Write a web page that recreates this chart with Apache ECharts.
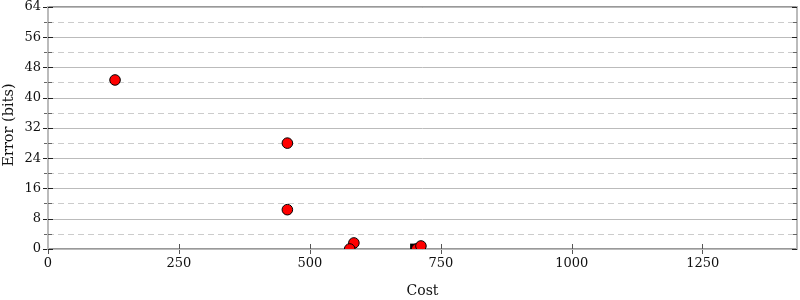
<!DOCTYPE html>
<html><head><meta charset="utf-8">
<script src="https://cdn.jsdelivr.net/npm/echarts@6/dist/echarts.min.js"></script>
<style>html,body{margin:0;padding:0;background:#fff}#c{width:800px;height:300px}</style>
</head><body><div id="c"></div>
<script>
// Data
const redPoints = [[128, 44.7], [457, 28.0], [457, 10.4], [584, 1.6], [576, 0], [704, 0], [712, 0.8]];
const blackPoints = [[698, 0.5]];
const xTicks = [0, 250, 500, 750, 1000, 1250];
const yTicks = [0, 8, 16, 24, 32, 40, 48, 56, 64];
const xMax = 1430;
const yMax = 64;

const FONT = 'DejaVu Serif';
const chart = echarts.init(document.getElementById('c'), null, {renderer: 'canvas'});

function yAxisDef(pos, inside, len, withLabel) {
  return {
    type: 'value', position: pos, min: yTicks[0], max: yMax, interval: yTicks[1] - yTicks[0],
    name: withLabel ? 'Error (bits)' : '', nameLocation: 'middle', nameGap: 31, nameMoveOverlap: false,
    nameTextStyle: {fontFamily: FONT, fontSize: 14.5, color: '#111', padding: [0, 0, 0, 6]},
    axisLine: {show: true, lineStyle: {color: '#bbb', width: 2}},
    axisTick: {show: true, inside: inside, length: len, lineStyle: {color: '#222', width: 1}},
    minorTick: {show: true, splitNumber: 2, length: Math.max(2, len - 1), lineStyle: {color: '#666', width: 1}},
    axisLabel: {show: withLabel, fontFamily: FONT, fontSize: 13, color: '#111', margin: 7},
    splitLine: {show: withLabel, lineStyle: {color: '#bbb', width: 1}},
    minorSplitLine: {show: withLabel, lineStyle: {color: '#ccc', width: 1, type: [6, 4]}},
    z: withLabel ? 1 : 2
  };
}

chart.setOption({
  animation: false,
  grid: {left: 48, right: 3, top: 7, bottom: 51, containLabel: false, outerBoundsMode: 'none'},
  xAxis: [
    {
      type: 'value', position: 'bottom', min: 0, max: xMax, interval: 250,
      name: 'Cost', nameLocation: 'middle', nameGap: 35,
      nameTextStyle: {fontFamily: FONT, fontSize: 14, color: '#111'},
      axisLine: {show: true, onZero: false, lineStyle: {color: '#999', width: 2}},
      axisTick: {show: true, inside: false, length: 5, lineStyle: {color: '#555'}},
      axisLabel: {fontFamily: FONT, fontSize: 13, color: '#111', margin: 8, showMaxLabel: false,
        formatter: v => xTicks.indexOf(v) >= 0 ? String(v) : ''},
      splitLine: {show: false}
    },
    {
      type: 'value', position: 'bottom', min: 0, max: xMax, interval: 250,
      axisLine: {show: false, onZero: false},
      axisTick: {show: true, inside: true, length: 5, lineStyle: {color: '#555'}},
      axisLabel: {show: false}, splitLine: {show: false}
    },
    {
      type: 'value', position: 'top', min: 0, max: xMax, interval: 250,
      axisLine: {show: true, onZero: false, lineStyle: {color: '#999', width: 2}},
      axisTick: {show: false}, axisLabel: {show: false}, splitLine: {show: false}
    }
  ],
  yAxis: [
    yAxisDef('left', false, 5, true),
    yAxisDef('left', true, 2, false),
    yAxisDef('right', false, 5, false),
    yAxisDef('right', true, 5, false)
  ],
  series: [
    {
      type: 'custom', xAxisIndex: 0, yAxisIndex: 0, clip: true, z: 5,
      data: blackPoints,
      renderItem: function (params, api) {
        const p = api.coord([api.value(0), api.value(1)]);
        return {type: 'rect', shape: {x: p[0] - 3.5, y: p[1] - 3.5, width: 7, height: 7},
          style: {fill: '#000'}};
      }
    },
    {
      type: 'custom', xAxisIndex: 0, yAxisIndex: 0, clip: true, z: 6,
      data: redPoints,
      renderItem: function (params, api) {
        const p = api.coord([api.value(0), api.value(1)]);
        return {type: 'circle', shape: {cx: p[0], cy: p[1], r: 5.3},
          style: {fill: '#ff0000', stroke: '#000', lineWidth: 1}};
      }
    }
  ]
});
</script></body></html>
